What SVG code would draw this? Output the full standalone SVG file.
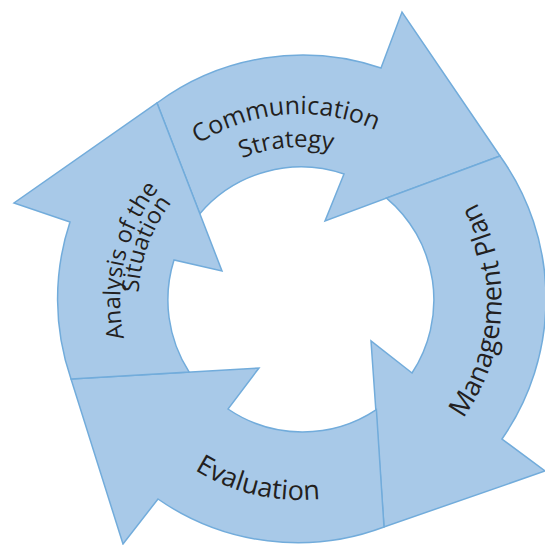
<svg xmlns="http://www.w3.org/2000/svg" width="545" height="545" viewBox="0 0 545 545">
  <style>
    .arrow { fill: #a8c9e8; stroke: #72acdb; stroke-width: 1.5; stroke-linejoin: miter; }
    .label { font-family: "Open Sans", "Noto Sans", "Liberation Sans", sans-serif; font-size: 24px; fill: #231f20; }
    .big { font-size: 27px; }
  </style>
  <defs>
    <path id="pComm" d="M 114.9 282.2 A 186 186 0 0 1 480.1 253.4" fill="none"/>
    <path id="pStrat" d="M 147.6 286.7 A 153 153 0 0 1 447.8 260.4" fill="none"/>
    <path id="pAna" d="M 229.7 465.7 A 180 180 0 0 1 309.4 120.3" fill="none"/>
    <path id="pSit" d="M 220.2 437.0 A 157 157 0 0 1 327.3 145.5" fill="none"/>
    <path id="pMan" d="M 322.8 499.7 A 201 201 0 0 0 347 104.4" fill="none"/>
    <path id="pEval" d="M 100.3 289.5 A 200 200 0 0 0 484.1 378.1" fill="none"/>
  </defs>

  <g id="communication">
    <path class="arrow" d="M 157 103 A 245 245 0 0 1 381 68 L 402 12 L 500 156 L 325 221 L 344 174 A 133 133 0 0 0 199.8 213.7 Z"/>
    <text class="label" style="font-size:25px"><textPath href="#pComm" startOffset="50%" text-anchor="middle">Communication</textPath></text>
    <text class="label"><textPath href="#pStrat" startOffset="50%" text-anchor="middle">Strategy</textPath></text>
  </g>

  <g id="management">
    <path class="arrow" d="M 500 156 A 245 245 0 0 1 502 439 L 545 471 L 384 527 L 371 341 L 412 373 A 133 133 0 0 0 386.5 198.1 Z"/>
    <text class="label big"><textPath href="#pMan" startOffset="50%" text-anchor="middle">Management Plan</textPath></text>
  </g>

  <g id="evaluation">
    <path class="arrow" d="M 384 527 A 245 245 0 0 1 158 499 L 123 544 L 71 379 L 259 368 L 228 409 A 133 133 0 0 0 376.4 409.6 Z"/>
    <text class="label big"><textPath href="#pEval" startOffset="50%" text-anchor="middle">Evaluation</textPath></text>
  </g>

  <g id="analysis">
    <path class="arrow" d="M 71 379 A 245 245 0 0 1 70 222 L 14 203 L 157 103 L 222 271 L 174 260 A 133 133 0 0 0 189.2 372.1 Z"/>
    <text class="label" style="font-size:23.5px"><textPath href="#pAna" startOffset="50%" text-anchor="middle">Analysis of the</textPath></text>
    <text class="label" style="font-size:23.5px"><textPath href="#pSit" startOffset="50%" text-anchor="middle">Situation</textPath></text>
  </g>
</svg>
